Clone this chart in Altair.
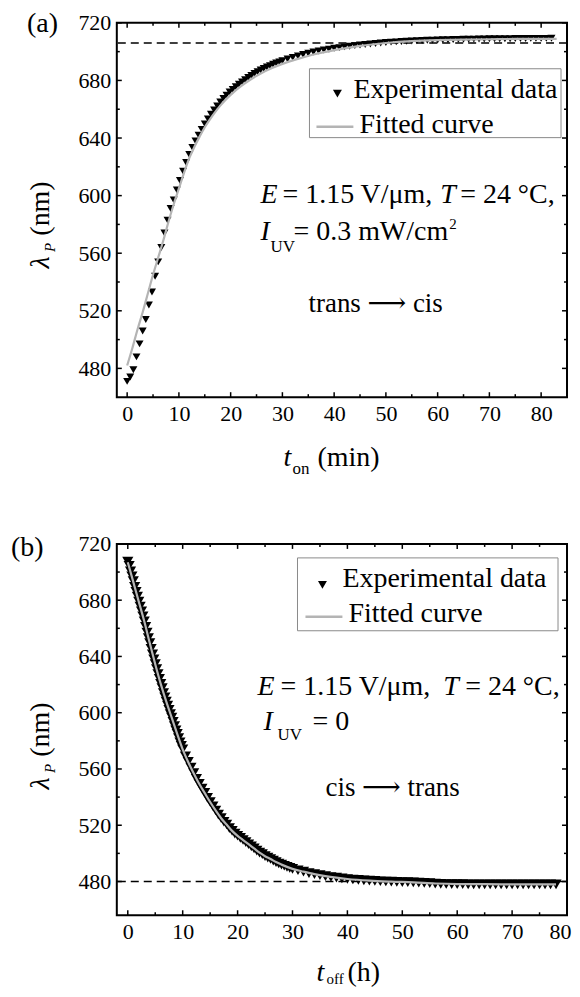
import altair as alt
import pandas as pd

FONT = "Liberation Serif, Times New Roman, Tinos, DejaVu Serif, serif"
GRAY = "#b4b4b4"

# ---------------- panel (a) data ----------------
a_t = [0.0, 0.6, 1.2, 1.8, 2.4, 3.0, 3.6, 4.2, 4.8, 5.4, 6.0, 6.6, 7.2, 7.8, 8.4, 9.0, 9.6,
       10.2, 10.8, 11.4, 12.0, 12.6, 13.2, 13.8, 14.4, 15.0, 15.6, 16.2, 16.8, 17.4, 18.0,
       18.6, 19.2, 19.8, 20.4, 21.0, 21.6, 22.2, 22.8, 23.4, 24.0, 24.6, 25.2, 25.8, 26.4,
       27.0, 27.6, 28.2, 28.8, 29.4, 30.0,
       31, 32, 33, 34, 35, 36, 37, 38, 39, 40, 41, 42, 43, 44, 45, 46, 47, 48, 49, 50,
       51, 52, 53, 54, 55, 56, 57, 58, 59, 60, 61, 62, 63, 64, 65, 66, 67, 68, 69, 70,
       71, 72, 73, 74, 75, 76, 77, 78, 79, 80, 81, 82]
a_lam = [471, 474, 479, 488, 497, 506, 514, 524, 533, 544, 554, 564, 574, 583, 591, 597, 604,
         610.5, 617, 623, 628.5, 633.5, 638, 642, 646, 649.8, 653.3, 656.5, 659.5, 662.3, 665,
         667.5, 669.8, 672, 673.8, 675.6, 677.3, 679, 680.5, 682, 683.4, 684.8, 686, 687.2,
         688.3, 689.3, 690.3, 691.2, 692.1, 692.9, 693.7,
         694.9, 696.0, 697.0, 698.0, 698.9, 699.7, 700.4, 701.1, 701.7, 702.3, 702.8, 703.3,
         703.8, 704.2, 704.6, 705.0, 705.3, 705.7, 706.0, 706.3, 706.6, 706.8, 707.0, 707.2,
         707.4, 707.6, 707.7, 707.9, 708.0, 708.1, 708.2, 708.3, 708.4, 708.5, 708.6, 708.6,
         708.7, 708.8, 708.8, 708.9, 708.9, 709.0, 709.0, 709.0, 709.1, 709.1, 709.1, 709.2,
         709.2, 709.2, 709.2, 709.3]
a_fit_t = [0, 1, 2, 3, 4, 5, 6, 7, 8, 9, 10, 11, 12, 13, 14, 15, 16, 17, 18, 19, 20, 22, 24,
           26, 28, 30, 33, 36, 40, 45, 50, 55, 60, 65, 70, 75, 83]
a_fit_lam = [482, 494, 507, 519, 532, 545, 557, 569, 582, 594, 605, 616, 626, 634, 641, 647.5,
             653, 658, 662.5, 666.5, 670, 676, 681, 685.2, 688.6, 691.5, 695, 698, 701, 704,
             706, 707.3, 708, 708.4, 708.6, 708.8, 708.9]
a_dash = [706]

# ---------------- panel (b) data ----------------
b_t = [0.0, 0.25, 0.5, 0.75, 1.0, 1.25, 1.5, 1.75, 2.0, 2.25, 2.5, 2.75, 3.0, 3.25, 3.5, 3.75,
       4.0, 4.25, 4.5, 4.75, 5.0, 5.25, 5.5, 5.75, 6.0, 6.25, 6.5, 6.75, 7.0, 7.25, 7.5, 7.75,
       8.0, 8.25, 8.5, 8.75, 9.0, 9.25, 9.5, 9.75, 10.0,
       10.5, 11.0, 11.5, 12.0, 12.5, 13.0, 13.5, 14.0, 14.5, 15.0, 15.5, 16.0, 16.5, 17.0,
       17.5, 18.0, 18.5, 19.0, 19.5, 20.0, 20.5, 21.0, 21.5, 22.0, 22.5, 23.0, 23.5, 24.0,
       24.5, 25.0, 25.5, 26.0, 26.5, 27.0, 27.5, 28.0, 28.5, 29.0, 29.5, 30.0,
       31, 32, 33, 34, 35, 36, 37, 38, 39, 40, 41, 42, 43, 44, 45, 46, 47, 48, 49, 50,
       51, 52, 53, 54, 55, 56, 57, 58, 59, 60, 61, 62, 63, 64, 65, 66, 67, 68, 69, 70,
       71, 72, 73, 74, 75, 76, 77, 78]
b_lam = [707.5, 704.5, 700.5, 697, 693.5, 689.5, 686, 682.5, 679, 675.5, 672, 668.5, 665, 661,
         657, 653, 649.5, 645.5, 641.5, 638, 634.5, 631, 627.5, 624, 620.5, 617.5, 614, 611,
         608, 605, 602, 599, 596.5, 593.5, 590.5, 587.5, 585, 582, 579, 576.5, 574,
         569, 565, 561, 557, 553, 549.5, 546, 543, 539.5, 536.5, 533.5, 530.5, 527.5, 525,
         522.5, 520.5, 518, 516, 514, 512.5, 511, 509.5, 508, 506.5, 505, 503.5, 502, 500.5,
         499.5, 498, 497, 496, 494.8, 493.8, 492.8, 492, 491.2, 490.4, 489.7, 489,
         488, 487, 486, 485.2, 484.5, 483.8, 483.2, 482.7, 482.2, 481.8, 481.4, 481.1, 480.8,
         480.6, 480.4, 480.2, 480.0, 479.9, 479.7, 479.6, 479.5, 479.4, 479.2, 479.0, 478.8,
         478.5, 478.3, 478.2, 478.1, 478.1, 478.1, 478.0, 478.0, 478.0, 478.0, 478.0, 477.9,
         477.9, 477.9, 477.9, 477.9, 477.9, 477.9, 477.9, 477.9, 477.9, 477.9, 478.0]
b_fit_t = [0, 1, 2, 3, 4, 5, 6, 7, 8, 9, 10, 11, 12, 13, 14, 15, 16, 17, 18, 19, 20, 21, 22,
           23, 24, 25, 26, 27, 28, 30, 32, 34, 36, 38, 40, 44, 48, 52, 56, 60, 65, 70, 78]
b_fit_lam = [707, 693, 679, 665, 649.5, 634.5, 620.5, 608, 596.5, 585, 574, 565, 557, 549.5,
             543, 536.5, 530.5, 525, 520.5, 516, 512.5, 509.5, 506.5, 503.5, 500.5, 498, 496,
             493.8, 492, 489, 487, 485.2, 483.8, 482.7, 481.8, 480.6, 479.9, 479.4, 478.6,
             478.2, 478.1, 478.0, 478.0]
b_dash = [480]

# ---------------- axis ticks ----------------
a_xmaj = [0, 10, 20, 30, 40, 50, 60, 70, 80]
a_xmin = [5, 15, 25, 35, 45, 55, 65, 75]
b_xmaj = [0, 10, 20, 30, 40, 50, 60, 70, 80]
b_xmin = [5, 15, 25, 35, 45, 55, 65, 75]
ymaj = [480, 520, 560, 600, 640, 680, 720]
ymin = [500, 540, 580, 620, 660, 700]

W = 451
HA = 375
HB = 372
one = pd.DataFrame({"k": [0]})


def txt(s, x, y, size=28, style="normal", align="left", angle=None):
    kw = dict(text=s, font=FONT, fontSize=size, fontStyle=style, align=align,
              baseline="alphabetic", color="black")
    if angle is not None:
        kw["angle"] = angle
    return alt.Chart(one).mark_text(**kw).encode(x=alt.value(x), y=alt.value(y))


def panel(et, el, ft, fl, dash, xdom, ydom, h, xmaj, xmin, tri, extras):
    xs = alt.Scale(domain=xdom, nice=False, zero=False)
    ys = alt.Scale(domain=ydom, nice=False, zero=False)
    xax = alt.Axis(values=xmaj, ticks=False, tickSize=0, domain=False, grid=False,
                   labelFont=FONT, labelFontSize=22, labelColor="black", labelPadding=6,
                   title=None, format="d", labelFlush=True, labelFlushOffset=4)
    yax = alt.Axis(values=ymaj, ticks=False, tickSize=0, domain=False, grid=False,
                   labelFont=FONT, labelFontSize=22, labelColor="black", labelPadding=6,
                   title=None, format="d")

    def X(f):
        return alt.X(f, type="quantitative", scale=xs, axis=xax)

    def Y(f):
        return alt.Y(f, type="quantitative", scale=ys, axis=yax)

    exp_df = pd.DataFrame({"t": et, "lam": el})
    fit_df = pd.DataFrame({"t": ft, "lam": fl})
    dash_df = pd.DataFrame({"lam": dash})

    layers = []
    layers.append(alt.Chart(dash_df).mark_rule(color="black", strokeWidth=1.7,
                                               strokeDash=[8, 5]).encode(y=Y("lam")))
    layers.append(alt.Chart(exp_df).mark_point(shape="triangle-down", filled=True,
                                               color="black", size=tri, opacity=1)
                  .encode(x=X("t"), y=Y("lam")))
    layers.append(alt.Chart(fit_df).mark_line(color=GRAY, strokeWidth=2.2,
                                              interpolate="monotone")
                  .encode(x=X("t"), y=Y("lam")))
    # inward ticks on all four sides
    for vals, ln in ((xmaj, 5), (xmin, 3)):
        d = pd.DataFrame({"v": vals})
        layers.append(alt.Chart(d).mark_rule(color="black", strokeWidth=1.5)
                      .encode(x=X("v"), y=alt.value(h), y2=alt.value(h - ln)))
        layers.append(alt.Chart(d).mark_rule(color="black", strokeWidth=1.5)
                      .encode(x=X("v"), y=alt.value(0), y2=alt.value(ln)))
    for vals, ln in ((ymaj, 5), (ymin, 3)):
        d = pd.DataFrame({"v": vals})
        layers.append(alt.Chart(d).mark_rule(color="black", strokeWidth=1.5)
                      .encode(y=Y("v"), x=alt.value(0), x2=alt.value(ln)))
        layers.append(alt.Chart(d).mark_rule(color="black", strokeWidth=1.5)
                      .encode(y=Y("v"), x=alt.value(W), x2=alt.value(W - ln)))
    layers.extend(extras)
    return alt.layer(*layers).properties(width=W, height=h)


def legend(x0, x1, y0, y1, tx, ty, ex, ey, lx0, lx1, ly, fx, fy):
    return [
        alt.Chart(one).mark_rect(fill="white", stroke="#8a8a8a", strokeWidth=1)
        .encode(x=alt.value(x0), x2=alt.value(x1), y=alt.value(y0), y2=alt.value(y1)),
        alt.Chart(one).mark_point(shape="triangle-down", filled=True, color="black",
                                  size=80, opacity=1)
        .encode(x=alt.value(tx), y=alt.value(ty)),
        txt("Experimental data", ex, ey),
        alt.Chart(one).mark_rule(color=GRAY, strokeWidth=2.5)
        .encode(x=alt.value(lx0), x2=alt.value(lx1), y=alt.value(ly)),
        txt("Fitted curve", fx, fy),
    ]


def ytitle():
    return [
        txt("λ", -68, 240, 28, "italic", "center", 270),
        txt("P", -62, 225, 15, "italic", "center", 270),
        txt("(nm)", -68, 186, 28, "normal", "center", 270),
    ]


extras_a = (
    [txt("(a)", -90, 9, 28)]
    + ytitle()
    + [txt("t", 167, 444, 28, "italic"), txt("on", 176, 452, 17), txt("(min)", 201, 444, 28)]
    + legend(193, 445, 46, 115, 221, 71, 237, 75, 200, 237, 104, 243, 110)
    + [
        txt("E", 144, 180, 28, "italic"), txt("= 1.15 V/μm,", 166, 180),
        txt("T", 324, 180, 28, "italic"), txt("= 24 °C,", 344, 180),
        txt("I", 144, 218, 28, "italic"), txt("UV", 154, 230, 17),
        txt("= 0.3 mW/cm", 177, 218), txt("2", 333, 207, 15),
        txt("trans ⟶ cis", 192, 290, 27),
    ]
)

extras_b = (
    [txt("(b)", -106, 12, 28)]
    + ytitle()
    + [txt("t", 200, 438, 28, "italic"), txt("off", 210, 441, 15), txt("(h)", 231, 438, 28)]
    + legend(181, 442, 14, 87, 206, 41, 226, 43, 189, 226, 73, 232, 78)
    + [
        txt("E", 141, 151, 28, "italic"), txt("= 1.15 V/μm,", 164, 151),
        txt("T", 327, 151, 28, "italic"), txt("= 24 °C,", 349, 151),
        txt("I", 147, 186, 28, "italic"), txt("UV", 161, 196, 17),
        txt("= 0", 196, 186),
        txt("cis ⟶ trans", 209, 253, 27),
    ]
)

pa = panel(a_t, a_lam, a_fit_t, a_fit_lam, a_dash, [-2, 85], [460, 720], HA,
           a_xmaj, a_xmin, 64, extras_a)
pb = panel(b_t, b_lam, b_fit_t, b_fit_lam, b_dash, [-2, 80], [456, 720], HB,
           b_xmaj, b_xmin, 125, extras_b)

chart = (
    alt.vconcat(pa, pb, spacing=147, bounds="flush")
    .properties(padding={"left": 2, "right": 0, "top": 0, "bottom": 0})
    .configure_view(stroke="black", strokeWidth=2)
)

chart.save("out.html", embed_options={"renderer": "svg", "actions": False})
